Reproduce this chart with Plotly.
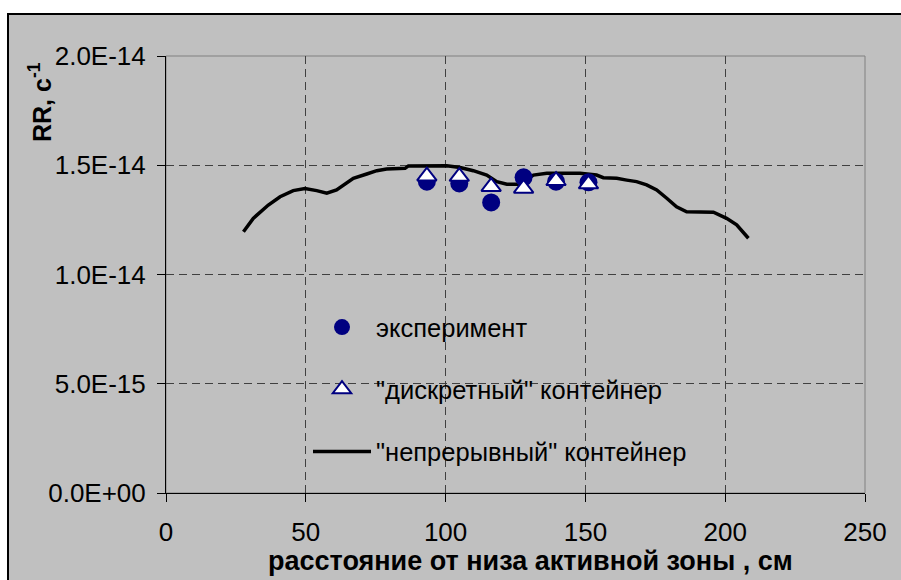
import plotly.graph_objects as go

# continuous container curve (x, cm ; RR, 1/s)
curve_x = [27.7, 31.2, 36.6, 40.8, 45.5, 49.7, 53.9, 57.5, 61.0, 64.6, 67.0, 71.8, 75.4, 78.9,
           85.5, 86.7, 93.2, 100.4, 105.2, 109.9, 114.7, 118.3, 121.9, 126.6, 131.4, 136.2,
           148.1, 154.0, 156.4, 161.2, 164.8, 168.3, 171.9, 175.5, 179.1, 182.6, 186.2, 189.8,
           195.8, 200.5, 204.1, 208.3]
curve_y = [1.196e-14, 1.257e-14, 1.318e-14, 1.356e-14, 1.384e-14, 1.394e-14, 1.384e-14, 1.372e-14,
           1.387e-14, 1.417e-14, 1.440e-14, 1.460e-14, 1.475e-14, 1.483e-14, 1.486e-14, 1.497e-14,
           1.498e-14, 1.498e-14, 1.490e-14, 1.475e-14, 1.455e-14, 1.425e-14, 1.413e-14, 1.413e-14,
           1.455e-14, 1.463e-14, 1.463e-14, 1.455e-14, 1.443e-14, 1.440e-14, 1.432e-14, 1.425e-14,
           1.410e-14, 1.387e-14, 1.349e-14, 1.310e-14, 1.287e-14, 1.285e-14, 1.285e-14, 1.257e-14,
           1.227e-14, 1.166e-14]

# experiment
exp_x = [93.3, 104.9, 116.3, 127.9, 139.5, 151.1]
exp_y = [1.425e-14, 1.417e-14, 1.330e-14, 1.445e-14, 1.425e-14, 1.422e-14]

# discrete container
disc_x = [93.3, 104.9, 116.3, 127.9, 139.5, 151.1]
disc_y = [1.450e-14, 1.448e-14, 1.402e-14, 1.394e-14, 1.429e-14, 1.414e-14]

y_tickvals = [0, 5e-15, 1e-14, 1.5e-14, 2e-14]
y_ticktext = ["0.0E+00", "5.0E-15", "1.0E-14", "1.5E-14", "2.0E-14"]
x_tickvals = [0, 50, 100, 150, 200, 250]

names = ["эксперимент", "\"дискретный\" контейнер", "\"непрерывный\" контейнер"]
x_title = "расстояние от низа активной зоны , см"
y_title = "RR, c<sup>-1</sup>"

NAVY = "#000080"
GRAY = "#C0C0C0"
FONT = "Liberation Sans, Arial, sans-serif"

fig = go.Figure()
fig.add_trace(go.Scatter(x=curve_x, y=curve_y, mode="lines", name=names[2],
                         line=dict(color="black", width=3.5), legendrank=3, legendgroup="c"))
fig.add_trace(go.Scatter(x=exp_x, y=exp_y, mode="markers", name=names[0],
                         marker=dict(symbol="circle", size=18, color=NAVY, line=dict(width=0)),
                         legendrank=1, legendgroup="a"))
fig.add_trace(go.Scatter(x=disc_x, y=disc_y, mode="markers", name=names[1],
                         marker=dict(symbol="triangle-up", size=17, color="white",
                                     line=dict(color=NAVY, width=2)),
                         legendrank=2, legendgroup="b"))

L, R, T, B = 166, 36, 56, 87
W, H = 901, 580
pw, ph = W - L - R, H - T - B

def px2paper(xp, yp):
    return (xp - L) / pw, (H - B - yp) / ph

x0, y0 = px2paper(8, 590)
x1, y1 = px2paper(905, 14)

fig.add_shape(type="rect", xref="paper", yref="paper", x0=x0, y0=y0, x1=x1, y1=y1,
              fillcolor=GRAY, line=dict(color="black", width=2), layer="below")
fig.add_shape(type="rect", xref="paper", yref="paper", x0=0, y0=0, x1=1, y1=1,
              fillcolor="rgba(0,0,0,0)", line=dict(color="#808080", width=1), layer="below")

ax, ay = px2paper(40, 102)
fig.add_annotation(text="<b>" + y_title + "</b>", xref="paper", yref="paper", x=ax, y=ay,
                   xanchor="center", yanchor="middle",
                   textangle=-90, showarrow=False, font=dict(size=25, color="black", family=FONT))
bx, by = px2paper(530, 561)
fig.add_annotation(text="<b>" + x_title + "</b>", xref="paper", yref="paper", x=bx, y=by,
                   xanchor="center", yanchor="middle",
                   showarrow=False, font=dict(size=27, color="black", family=FONT))

lx, ly = px2paper(308, 304)
fig.update_layout(
    width=W, height=H,
    margin=dict(l=L, r=R, t=T, b=B),
    paper_bgcolor="white", plot_bgcolor=GRAY,
    font=dict(family=FONT, size=26, color="black"),
    showlegend=True,
    legend=dict(x=lx, y=ly, xanchor="left", yanchor="top", bgcolor="rgba(0,0,0,0)",
                font=dict(size=25.5), tracegroupgap=26, itemwidth=58),
    xaxis=dict(range=[0, 250], tickvals=x_tickvals, showline=True, linecolor="black",
               linewidth=1, ticks="outside", ticklen=8, tickcolor="black",
               showgrid=True, gridcolor="#404040", griddash="8px,5px", gridwidth=1,
               zeroline=False, tickfont=dict(size=26), ticklabelstandoff=8),
    yaxis=dict(range=[0, 2e-14], tickvals=y_tickvals, ticktext=y_ticktext, showline=True,
               linecolor="black", linewidth=1, ticks="outside", ticklen=8, tickcolor="black",
               showgrid=True, gridcolor="#404040", griddash="8px,5px", gridwidth=1,
               zeroline=False, tickfont=dict(size=26), ticklabelstandoff=6),
)

fig.write_html("out.html", config={"displayModeBar": False},
               post_script="document.body.style.margin='0';")
